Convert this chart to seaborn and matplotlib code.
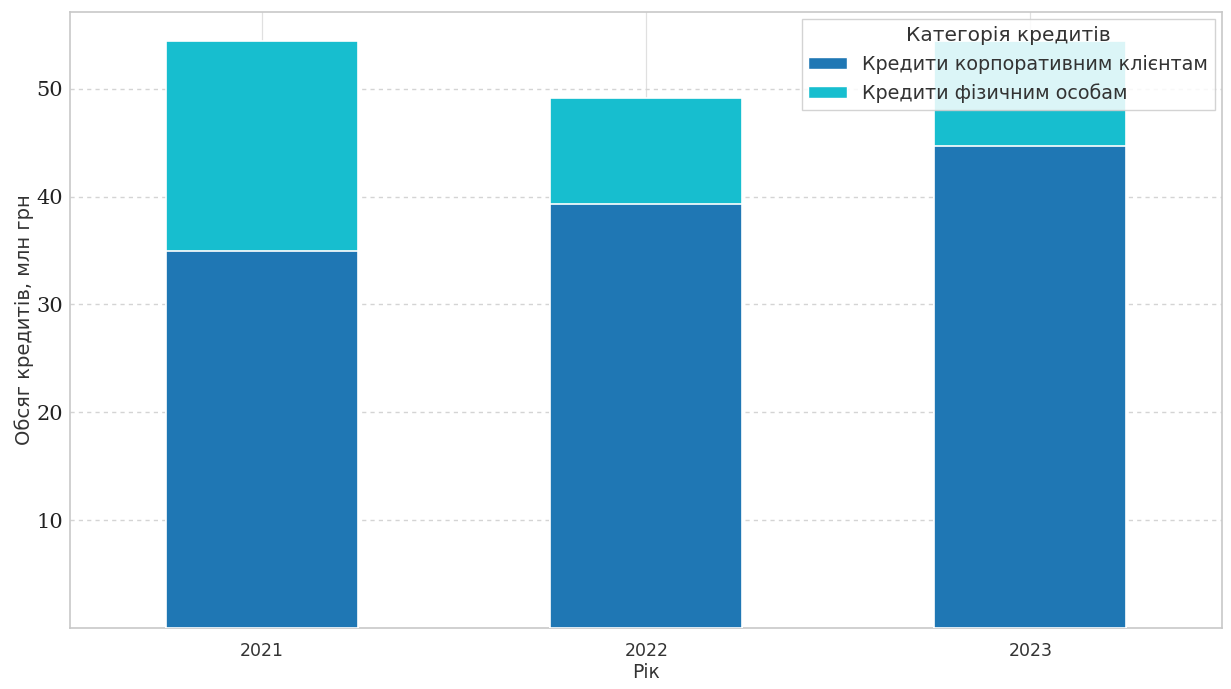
import matplotlib
matplotlib.use("Agg")
import matplotlib.pyplot as plt
from matplotlib.patches import Patch
import seaborn as sns
import pandas as pd

years = ["2021", "2022", "2023"]
corporate = [35.0, 39.3, 44.7]
retail = [19.4, 9.8, 9.7]
series_names = ["Кредити корпоративним клієнтам", "Кредити фізичним особам"]
colors = ["#1f77b4", "#17becf"]
y_ticks = [10, 20, 30, 40, 50]

sns.set_style("white")
plt.rcParams["font.family"] = ["DejaVu Sans"]

df = pd.DataFrame({"year": years, "corporate": corporate, "retail": retail})
df["total"] = df["corporate"] + df["retail"]

fig, ax = plt.subplots(figsize=(12.31, 6.89), dpi=100)

# stacked bars: total height in the upper colour, corporate part drawn over it
sns.barplot(data=df, x="year", y="total", color=colors[1], saturation=1,
            width=0.5, edgecolor="white", linewidth=1.2, ax=ax, zorder=3)
sns.barplot(data=df, x="year", y="corporate", color=colors[0], saturation=1,
            width=0.5, edgecolor="white", linewidth=1.2, ax=ax, zorder=3)

ax.set_xlim(-0.5, 2.5)
ax.set_ylim(0, max(df["total"]) * 1.05)
ax.set_yticks(y_ticks)
ax.set_yticklabels([str(t) for t in y_ticks], fontfamily="DejaVu Serif", fontsize=15)
ax.tick_params(axis="x", labelsize=12.5, length=0, pad=10, labelcolor="#333333")
ax.tick_params(axis="y", length=3, color="#bbbbbb", pad=2, labelcolor="#222222")

ax.grid(axis="y", linestyle=(0, (3, 3)), color="#d4d4d4", linewidth=1.0, zorder=0)
ax.grid(axis="x", linestyle="-", color="#e0e0e0", linewidth=0.9, zorder=0)
ax.set_axisbelow(True)

for s in ax.spines.values():
    s.set_color("#c8c8c8")
    s.set_linewidth(1.2)

ax.set_xlabel("Рік", fontsize=13.5, color="#333333", labelpad=2)
ax.set_ylabel("Обсяг кредитів, млн грн", fontsize=14, color="#333333", labelpad=2)

handles = [Patch(facecolor=c, edgecolor="white", label=n) for c, n in zip(colors, series_names)]
leg = ax.legend(handles=handles, title="Категорія кредитів", loc="upper right",
                fontsize=13.8, title_fontsize=14.5, frameon=True, fancybox=False,
                borderaxespad=0.4, handlelength=2.0, handleheight=0.6,
                labelspacing=0.5, borderpad=0.35)
leg.get_frame().set_edgecolor("#cccccc")
leg.get_frame().set_alpha(0.85)
leg.set_zorder(5)
for t in leg.get_texts():
    t.set_color("#333333")
leg.get_title().set_color("#333333")

fig.subplots_adjust(left=0.057, right=0.993, top=0.983, bottom=0.088)
fig.savefig("out.png", dpi=100)
